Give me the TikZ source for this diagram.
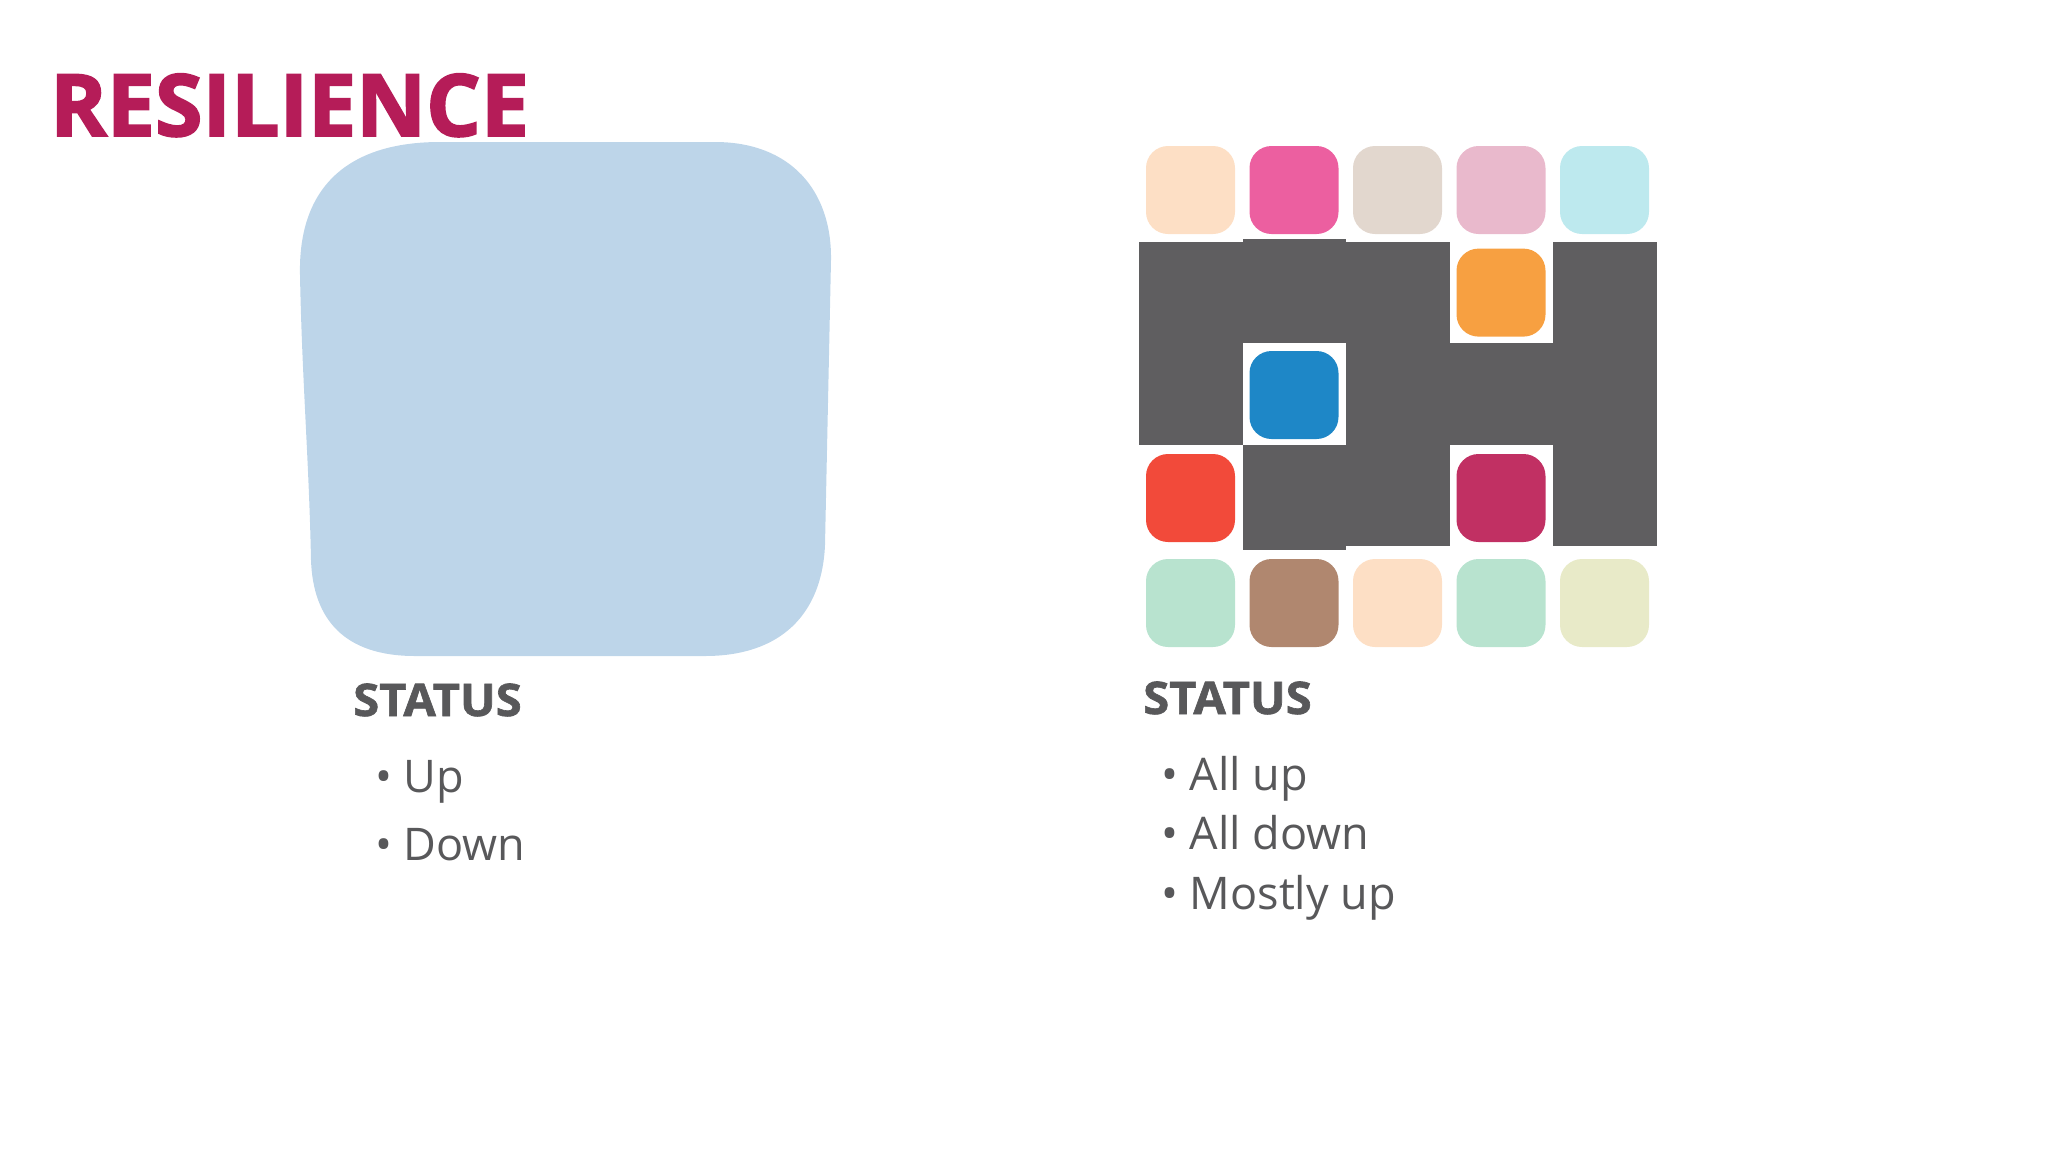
\documentclass[tikz,border=0pt]{standalone}
\usepackage{fontspec}
\setmainfont{Open Sans}
\newfontfamily\titlefont{Open Sans}[BoldFeatures={FakeBold=2.2}]
\newfontfamily\headfont{Open Sans}[BoldFeatures={FakeBold=1.4, FakeStretch=1.05}]

\definecolor{titlered}{HTML}{B51C58}
\definecolor{textgrey}{HTML}{58585A}
\definecolor{blockgrey}{HTML}{5F5E60}
\definecolor{monoblue}{HTML}{BDD5E9}
\definecolor{peach}{HTML}{FDDFC5}
\definecolor{hotpink}{HTML}{EC5FA0}
\definecolor{sand}{HTML}{E2D7CE}
\definecolor{blush}{HTML}{E9B9CC}
\definecolor{skyice}{HTML}{BDE9EE}
\definecolor{tangerine}{HTML}{F7A041}
\definecolor{ocean}{HTML}{1E87C7}
\definecolor{tomato}{HTML}{F24A3A}
\definecolor{crimson}{HTML}{C13063}
\definecolor{mint}{HTML}{B8E3CF}
\definecolor{cocoa}{HTML}{B0876F}
\definecolor{lemon}{HTML}{E8EAC8}

\begin{document}
\begin{tikzpicture}[
        x=1pt, y=-1pt,
        tile/.style={rounded corners=22pt, minimum width=89pt, minimum height=88pt, inner sep=0pt},
        heading/.style={anchor=base west, inner sep=0pt, text=textgrey,
            font=\fontsize{45}{54}\headfont\bfseries},
        item/.style={anchor=base west, inner sep=0pt, text=textgrey,
            font=\fontsize{45}{54}\selectfont}
    ]
    \useasboundingbox (0,0) rectangle (2048,1152);

    % Title
    \node[anchor=base west, inner sep=0pt, text=titlered,
        font=\fontsize{86}{100}\titlefont\bfseries] (title) at (50,136) {RESILIENCE};

    % Monolith (one big blob)
    \fill[monoblue] (300,275) .. controls (298,185) and (350,142) .. (440,142)
        -- (715,142) .. controls (790,142) and (832,190) .. (831,260)
        -- (825,545) .. controls (822,615) and (780,656) .. (705,656)
        -- (415,656) .. controls (345,656) and (313,620) .. (311,560)
        .. controls (309,460) and (302,380) .. (300,275) -- cycle;

    % Grey cells of the middle rows (column/row)
    \foreach \c/\r in {0/1, 2/1, 4/1, 0/2, 2/2, 3/2, 4/2, 2/3, 4/3}
        \fill[blockgrey] (1139+\c*103.6, 242+\r*101.3-101.3)
            rectangle (1139+\c*103.6+103.6, 242+\r*101.3);
    \fill[blockgrey] (1242.6,239) rectangle (1346.2,343.3);
    \fill[blockgrey] (1242.6,444.6) rectangle (1346.2,550);

    % Top row of tiles
    \foreach \c/\col in {0/peach, 1/hotpink, 2/sand, 3/blush, 4/skyice}
        \node[tile, fill=\col] (top\c) at (1190.5+\c*103.5, 190) {};

    % Middle tiles
    \node[tile, fill=tangerine] (orange) at (1501, 292.6) {};
    \node[tile, fill=ocean] (blue) at (1294, 395) {};
    \node[tile, fill=tomato] (red) at (1190.5, 498) {};
    \node[tile, fill=crimson] (berry) at (1501, 498) {};

    % Bottom row of tiles
    \foreach \c/\col in {0/mint, 1/cocoa, 2/peach, 3/mint, 4/lemon}
        \node[tile, fill=\col] (bot\c) at (1190.5+\c*103.5, 603) {};

    % Left status list
    \node[heading] (statusA) at (353,716) {STATUS};
    \node[item] (up) at (375,792) {•~Up};
    \node[item] (down) at (375,860) {•~Down};

    % Right status list
    \node[heading] (statusB) at (1143,714) {STATUS};
    \node[item] (allup) at (1161,790) {•~All up};
    \node[item] (alldown) at (1161,849) {•~All down};
    \node[item] (mostly) at (1161,909) {•~Mostly up};

\end{tikzpicture}
\end{document}
